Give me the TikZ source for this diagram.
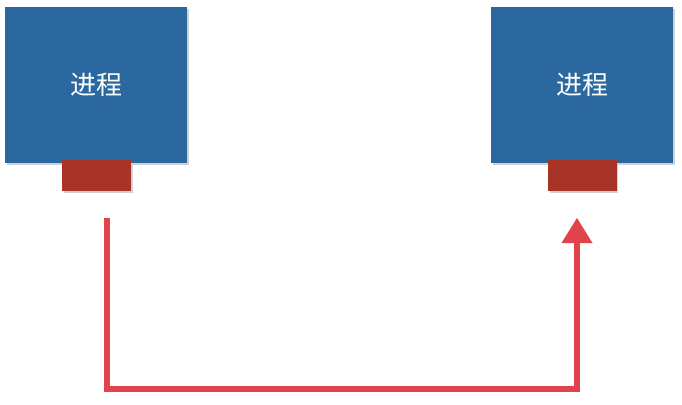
\documentclass[tikz,border=0pt]{standalone}
\usepackage{fontspec}
\newfontfamily\cjk{Noto Sans CJK SC}
\usetikzlibrary{calc}
\definecolor{procblue}{HTML}{2C68A0}
\definecolor{portred}{HTML}{A83428}
\definecolor{arrowred}{HTML}{E0444A}
\tikzset{
  proc/.style={fill=procblue, draw=none, minimum width=182pt, minimum height=156pt, inner sep=0pt,
    text=white, font={\cjk\fontsize{26pt}{30pt}\selectfont}},
  port/.style={fill=portred, draw=none, minimum width=69pt, minimum height=31pt, inner sep=0pt},
  flow/.style={draw=arrowred, line width=6pt, line join=miter}
}
\begin{document}
\begin{tikzpicture}[x=1pt,y=-1pt]
\useasboundingbox (0,0) rectangle (682,404);
% shadows
\fill[black!18] (7,9) rectangle (189,165);
\fill[black!18] (493,9) rectangle (675,165);
\fill[black!18] (64,162) rectangle (133,193);
\fill[black!18] (550,162) rectangle (618,193);
\node[proc] (p1) at (96,85) {进程};
\node[proc] (p2) at (582,85) {进程};
\node[port] (r1) at (96.5,175.5) {};
\node[port] (r2) at (582,175.5) {};
\coordinate (s) at (107,218);
\coordinate (c1) at (107,389);
\coordinate (c2) at (577,389);
\coordinate (e) at (577,242);
\coordinate (tip) at (577,218);
\draw[flow] (s) -- (c1) -- (c2) -- (e);
\fill[arrowred] (tip) -- ($(e)+(-15.5,1)$) -- ($(e)+(15.5,1)$) -- cycle;
\end{tikzpicture}
\end{document}
